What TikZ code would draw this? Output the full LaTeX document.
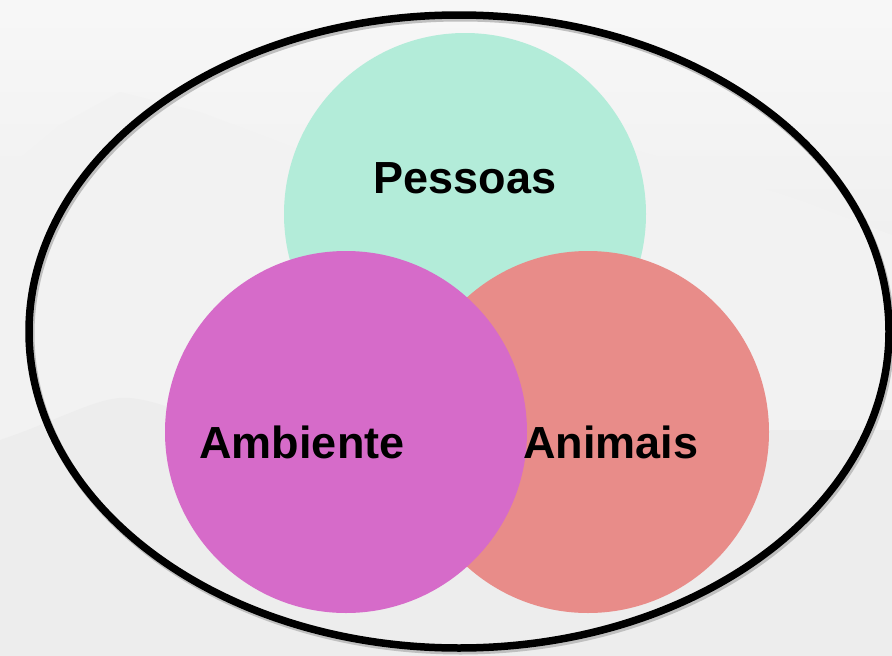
\documentclass[tikz,border=0pt]{standalone}
\usepackage{fontspec}
\setmainfont{Liberation Sans}
\usepackage{tikz}
\usetikzlibrary{positioning}

\definecolor{pessoascol}{HTML}{B3ECD9}
\definecolor{ambientecol}{HTML}{D66BC9}
\definecolor{animaiscol}{HTML}{E88C89}

\tikzset{
	conjunto/.style={circle, minimum size=362pt, inner sep=0pt, draw=none},
	rotulo/.style={anchor=base, font=\fontsize{45}{50}\selectfont\bfseries, text=black}
}

\begin{document}
\begin{tikzpicture}[x=1pt, y=-1pt]
				% Canvas
				\useasboundingbox (0,0) rectangle (892,656);
				\shade[top color=black!3, bottom color=black!11] (0,0) rectangle (892,656);
				
				% Faded hills in the back
				\fill[black!5] (0,175) -- (60,125) -- (120,92) -- (200,112) -- (300,150) -- (420,170) -- (560,130) -- (700,168) -- (800,200) -- (892,235) -- (892,656) -- (0,656) -- cycle;
				\fill[black!7] (0,440) .. controls (60,420) and (100,395) .. (130,398) .. controls (170,402) and (200,425) .. (260,430) -- (892,430) -- (892,656) -- (0,656) -- cycle;
				
				% Outer ring
				\draw[line width=8pt, black!25] (460.5,334) ellipse (430 and 316.5);
				\draw[line width=7.5pt, black] (459,331.5) ellipse (430 and 316.5);
				
				% The three sets
				\node[conjunto, fill=pessoascol] (pessoas) at (465,214) {};
				\node[conjunto, fill=animaiscol] (animais) at (588,432) {};
				\node[conjunto, fill=ambientecol] (ambiente) at (346,432) {};
				
				% Labels
				\node[rotulo] (pessoaslbl) at ([yshift=21pt]pessoas.center) {Pessoas};
				\node[rotulo] (ambientelbl) at ([xshift=-44pt, yshift=-26pt]ambiente.center) {Ambiente};
				\node[rotulo] (animaislbl) at ([xshift=23pt, yshift=-26pt]animais.center) {Animais};
\end{tikzpicture}
\end{document}
